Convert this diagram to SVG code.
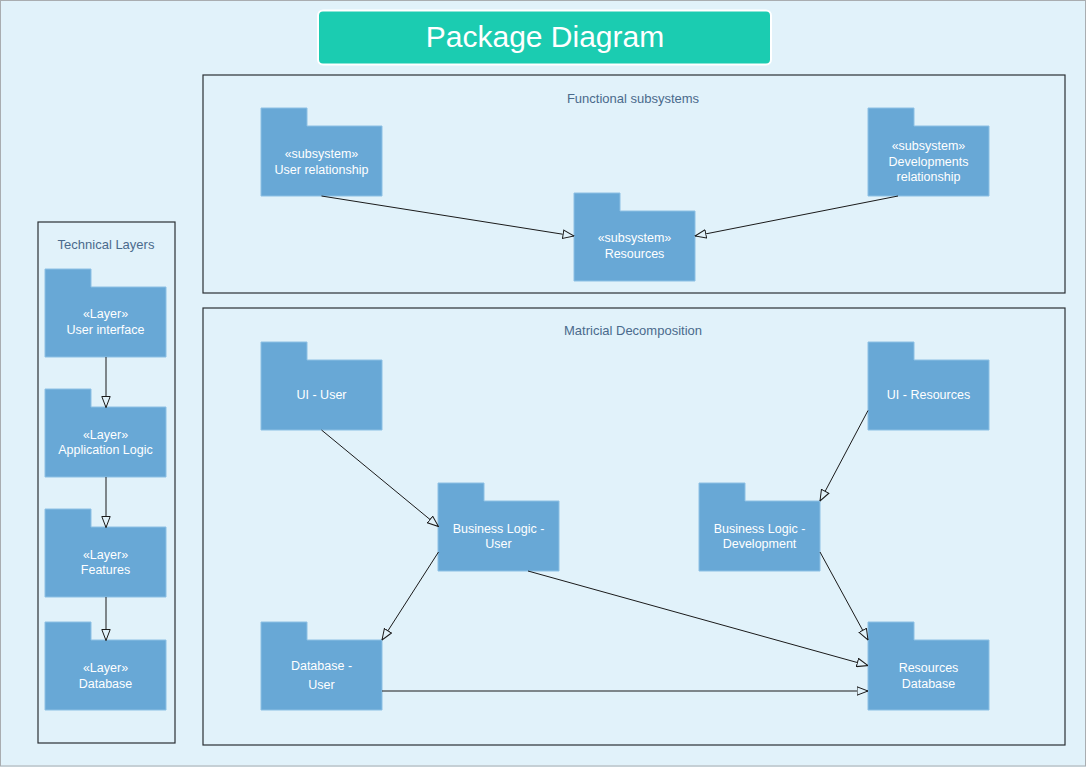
<svg xmlns="http://www.w3.org/2000/svg" width="1086" height="767" viewBox="0 0 1086 767">
  <style>
    .frame { fill: none; stroke: #2b3034; stroke-width: 1.2; }
    .frame-label { font-family: "Liberation Sans", Arial, sans-serif; font-size: 13px; fill: #4a6a8c; text-anchor: middle; }
    .pkg { fill: #68a8d6; stroke: #8cc0e4; stroke-width: 1; }
    .pkg-text { font-family: "Liberation Sans", Arial, sans-serif; font-size: 12.5px; fill: #ffffff; text-anchor: middle; }
    .link { fill: none; stroke: #1a1a1a; stroke-width: 1; marker-end: url(#hollow); }
  </style>
  <defs>
    <!-- hollow triangle head for dependency/generalisation links -->
    <marker id="hollow" viewBox="0 0 12 10" refX="11.5" refY="5" markerWidth="12" markerHeight="10" markerUnits="userSpaceOnUse" orient="auto">
      <path d="M0.5,0.8 L11.5,5 L0.5,9.2 Z" fill="#e1f2fa" stroke="#1a1a1a" stroke-width="1"/>
    </marker>
    <!-- folder-shaped package: tab 46x18, body 121x69 -->
    <path id="folder" d="M0,0 H46 V18 H121 V88 H0 Z"/>
  </defs>

  <!-- page -->
  <rect x="0" y="0" width="1086" height="767" fill="#e1f2fa"/>
  <rect x="0.5" y="0.5" width="1085" height="765.5" fill="none" stroke="#a9adb0" stroke-width="1"/>

  <!-- title -->
  <g id="title">
    <rect x="318" y="10.5" width="453" height="54" rx="5" ry="5" fill="#1bccb1" stroke="#ffffff" stroke-width="2"/>
    <text x="545" y="47" font-family="Liberation Sans, Arial, sans-serif" font-size="30" fill="#ffffff" text-anchor="middle">Package Diagram</text>
  </g>

  <!-- frames -->
  <g id="frame-functional">
    <rect class="frame" x="203" y="75" width="862" height="218"/>
    <text class="frame-label" x="633" y="103">Functional subsystems</text>
  </g>
  <g id="frame-matricial">
    <rect class="frame" x="203" y="308" width="862" height="437"/>
    <text class="frame-label" x="633" y="335">Matricial Decomposition</text>
  </g>
  <g id="frame-technical">
    <rect class="frame" x="38" y="222" width="137" height="521"/>
    <text class="frame-label" x="106" y="249">Technical Layers</text>
  </g>

  <!-- functional subsystems -->
  <g id="pkg-user-relationship">
    <use href="#folder" class="pkg" x="261" y="108"/>
    <text class="pkg-text" x="321.5" y="158">«subsystem»</text>
    <text class="pkg-text" x="321.5" y="174">User relationship</text>
  </g>
  <g id="pkg-resources">
    <use href="#folder" class="pkg" x="574" y="193"/>
    <text class="pkg-text" x="634.5" y="242">«subsystem»</text>
    <text class="pkg-text" x="634.5" y="258">Resources</text>
  </g>
  <g id="pkg-developments-relationship">
    <use href="#folder" class="pkg" x="868" y="108"/>
    <text class="pkg-text" x="928.5" y="150">«subsystem»</text>
    <text class="pkg-text" x="928.5" y="166">Developments</text>
    <text class="pkg-text" x="928.5" y="181">relationship</text>
  </g>

  <!-- technical layers -->
  <g id="layer-user-interface">
    <use href="#folder" class="pkg" x="45" y="269"/>
    <text class="pkg-text" x="105.5" y="318">«Layer»</text>
    <text class="pkg-text" x="105.5" y="334">User interface</text>
  </g>
  <g id="layer-application-logic">
    <use href="#folder" class="pkg" x="45" y="389"/>
    <text class="pkg-text" x="105.5" y="439">«Layer»</text>
    <text class="pkg-text" x="105.5" y="454">Application Logic</text>
  </g>
  <g id="layer-features">
    <use href="#folder" class="pkg" x="45" y="509"/>
    <text class="pkg-text" x="105.5" y="559">«Layer»</text>
    <text class="pkg-text" x="105.5" y="574">Features</text>
  </g>
  <g id="layer-database">
    <use href="#folder" class="pkg" x="45" y="622"/>
    <text class="pkg-text" x="105.5" y="672">«Layer»</text>
    <text class="pkg-text" x="105.5" y="688">Database</text>
  </g>

  <!-- matricial decomposition -->
  <g id="pkg-ui-user">
    <use href="#folder" class="pkg" x="261" y="342"/>
    <text class="pkg-text" x="321.5" y="399">UI - User</text>
  </g>
  <g id="pkg-ui-resources">
    <use href="#folder" class="pkg" x="868" y="342"/>
    <text class="pkg-text" x="928.5" y="399">UI - Resources</text>
  </g>
  <g id="pkg-business-logic-user">
    <use href="#folder" class="pkg" x="438" y="483"/>
    <text class="pkg-text" x="498.5" y="533">Business Logic -</text>
    <text class="pkg-text" x="498.5" y="548">User</text>
  </g>
  <g id="pkg-business-logic-development">
    <use href="#folder" class="pkg" x="699" y="483"/>
    <text class="pkg-text" x="759.5" y="533">Business Logic -</text>
    <text class="pkg-text" x="759.5" y="548">Development</text>
  </g>
  <g id="pkg-database-user">
    <use href="#folder" class="pkg" x="261" y="622"/>
    <text class="pkg-text" x="321.5" y="670">Database -</text>
    <text class="pkg-text" x="321.5" y="689">User</text>
  </g>
  <g id="pkg-resources-database">
    <use href="#folder" class="pkg" x="868" y="622"/>
    <text class="pkg-text" x="928.5" y="672">Resources</text>
    <text class="pkg-text" x="928.5" y="688">Database</text>
  </g>

  <!-- connectors -->
  <g id="connectors">
    <line class="link" x1="321.5" y1="196" x2="574" y2="236"/>
    <line class="link" x1="898" y1="196" x2="695" y2="236"/>

    <line class="link" x1="106" y1="357" x2="106" y2="407.5"/>
    <line class="link" x1="106" y1="477" x2="106" y2="527.5"/>
    <line class="link" x1="106" y1="597" x2="106" y2="640.5"/>

    <line class="link" x1="321.5" y1="430" x2="438.5" y2="526.5"/>
    <line class="link" x1="438.5" y1="552" x2="382" y2="640"/>
    <line class="link" x1="528" y1="571" x2="868" y2="665.5"/>
    <line class="link" x1="382" y1="691" x2="868" y2="691"/>
    <line class="link" x1="868" y1="410.5" x2="820" y2="501"/>
    <line class="link" x1="820" y1="552" x2="868" y2="640"/>
  </g>
</svg>
